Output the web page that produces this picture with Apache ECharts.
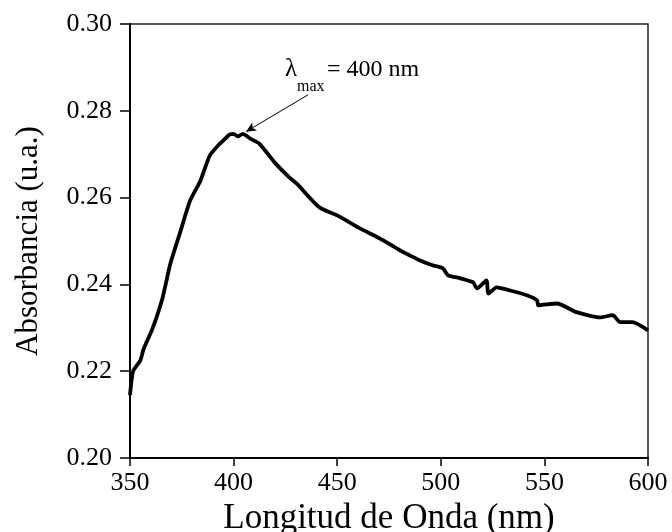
<!DOCTYPE html>
<html>
<head>
<meta charset="utf-8">
<script src="https://cdn.jsdelivr.net/npm/echarts@6/dist/echarts.min.js"></script>
<style>
  html, body { margin: 0; padding: 0; background: #fff; }
  #chart { width: 672px; height: 532px; }
</style>
</head>
<body>
<div id="chart"></div>
<script>
// espectro UV-vis
var wavelength = [350, 351.5, 355, 356.5, 361, 365.5, 369.5, 374, 379, 384, 388.5, 392.5, 396, 398, 400, 402, 404.5,
  408, 412.5, 420, 427, 430.5, 441.5, 450, 461, 470.5, 480.5, 485, 490, 496, 501, 503.5, 509.5, 515.5,
  517.5, 522, 523, 527, 533.5, 541.5, 546.5, 547, 556, 565.5, 577, 583, 586.5, 592.5, 600];
var absorbance = [0.2145, 0.2200, 0.2225, 0.2250, 0.2300, 0.2365, 0.2448, 0.2517, 0.2593, 0.2639, 0.2697, 0.2720, 0.2736, 0.2745, 0.2747, 0.2741, 0.2747,
  0.2736, 0.2724, 0.2680, 0.2646, 0.2632, 0.2577, 0.2559, 0.2529, 0.2506, 0.2478, 0.2467, 0.2455, 0.2444, 0.2437, 0.2421, 0.2414, 0.2405,
  0.2391, 0.2409, 0.2379, 0.2393, 0.2386, 0.2375, 0.2363, 0.2352, 0.2356, 0.2336, 0.2324, 0.2329, 0.2313, 0.2313, 0.2294];

var xTicks = [350, 400, 450, 500, 550, 600];
var yTicks = [0.20, 0.22, 0.24, 0.26, 0.28, 0.30];

var serif = "'Liberation Serif', 'Times New Roman', serif";

var chart = echarts.init(document.getElementById("chart"));
var option = {
  animation: false,
  grid: {
    left: 130,
    right: 24,
    top: 24,
    bottom: 74,
    containLabel: false,
    outerBoundsMode: "none",
    show: true,
    borderColor: "#222",
    borderWidth: 1.5
  },
  xAxis: {
    type: "value",
    min: xTicks[0],
    max: xTicks[xTicks.length - 1],
    interval: 50,
    name: "Longitud de Onda (nm)",
    nameLocation: "middle",
    nameGap: 40,
    nameTextStyle: { fontFamily: serif, fontSize: 35, color: "#000" },
    axisLine: { onZero: false, lineStyle: { color: "#000", width: 2 } },
    axisTick: { show: true, length: 8, lineStyle: { color: "#000", width: 1.5 } },
    axisLabel: { margin: 12, fontFamily: serif, fontSize: 26, color: "#000" },
    splitLine: { show: false }
  },
  yAxis: {
    type: "value",
    min: yTicks[0],
    max: yTicks[yTicks.length - 1],
    interval: 0.02,
    name: "Absorbancia (u.a.)",
    nameLocation: "middle",
    nameGap: 86,
    nameTextStyle: { fontFamily: serif, fontSize: 31, color: "#000" },
    axisLine: { onZero: false, lineStyle: { color: "#000", width: 2 } },
    axisTick: { show: true, length: 10, lineStyle: { color: "#000", width: 1.5 } },
    axisLabel: {
      margin: 18,
      fontFamily: serif,
      fontSize: 26,
      color: "#000",
      formatter: function (v) { return v.toFixed(2); }
    },
    splitLine: { show: false }
  },
  series: [
    {
      type: "line",
      data: wavelength.map(function (w, i) { return [w, absorbance[i]]; }),
      showSymbol: false,
      smooth: 0.2,
      lineStyle: { color: "#000", width: 3.8 },
      markLine: {
        silent: true,
        symbol: ["none", "arrow"],
        symbolSize: [7, 10],
        label: { show: false },
        lineStyle: { color: "#000", width: 1, type: "solid" },
        data: [[{ coord: [436, 0.2837] }, { coord: [406, 0.2752] }]]
      },
      markPoint: {
        silent: true,
        symbolSize: 0,
        data: [
          { coord: [424.8, 0.2895], label: { show: true, position: "right", distance: 0, formatter: "λ", fontFamily: serif, fontSize: 25, color: "#000" } },
          { coord: [430.6, 0.2856], label: { show: true, position: "right", distance: 0, formatter: "max", fontFamily: serif, fontSize: 16, color: "#000" } },
          { coord: [445.1, 0.2895], label: { show: true, position: "right", distance: 0, formatter: "= 400 nm", fontFamily: serif, fontSize: 24, color: "#000" } }
        ]
      }
    }
  ]
};
chart.setOption(option);
</script>
</body>
</html>
